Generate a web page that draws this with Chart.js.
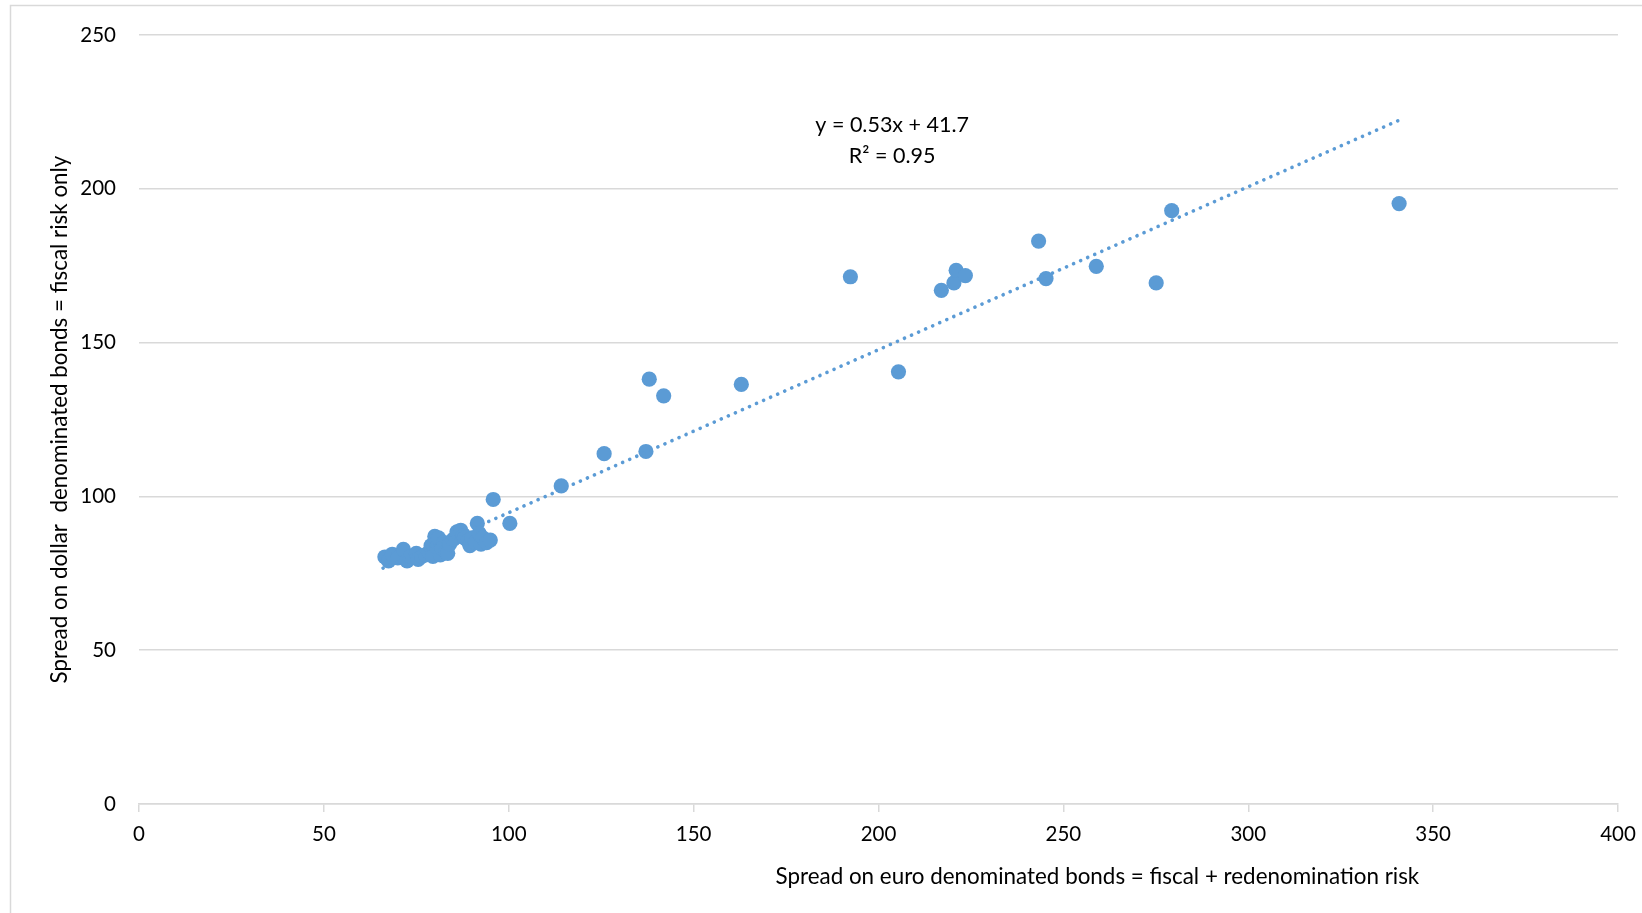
<!DOCTYPE html>
<html>
<head>
<meta charset="utf-8">
<script src="https://cdn.jsdelivr.net/npm/chart.js@4.4.1/dist/chart.umd.min.js"></script>
<style>
  html, body { margin: 0; padding: 0; background: #fff; }
  #wrap { width: 1642px; height: 913px; }
</style>
</head>
<body>
<div id="wrap"><canvas id="chart" width="1642" height="913"></canvas></div>
<script>
// spreads in basis points
const euroSpread = [
  66.5, 67.5, 68.5, 70, 71.5, 72.5, 73.5, 75, 75.5, 76.5, 77.5, 78.5, 79, 79.5, 80, 80.5,
  81, 81.5, 82, 82.5, 83, 83.5, 84, 85, 86, 87, 87.5, 88, 89, 89.5, 90, 91, 91.5, 92,
  92.5, 93, 94, 95, 95.8, 100.3, 114.2, 125.8, 137.1, 138, 141.9, 162.9, 192.4, 205.4,
  217, 220.4, 221, 223.5, 243.3, 245.3, 258.9, 275.1, 279.3, 340.8
];
const dollarSpread = [
  80.3, 79.0, 81.2, 80.0, 82.8, 79.0, 80.5, 81.5, 79.5, 80.5, 81.0, 82.0, 84.0, 80.5, 87.0, 83.5,
  86.5, 81.0, 83.0, 85.0, 82.0, 81.5, 84.5, 86.0, 88.5, 89.0, 87.0, 86.5, 85.5, 84.0, 86.5, 85.0, 91.2, 88.0,
  84.5, 86.5, 85.0, 85.8, 99.0, 91.2, 103.4, 113.9, 114.6, 138.1, 132.7, 136.4, 171.4, 140.5,
  167.0, 169.4, 173.5, 171.8, 183.0, 170.8, 174.8, 169.4, 192.9, 195.2
];

// dotted linear trend line, ends
const trendX = [66, 341];
const trendY = [76.7, 222.4];

const xTicks = [0, 50, 100, 150, 200, 250, 300, 350, 400];
const yTicks = [0, 50, 100, 150, 200, 250];

const equationLines = ['y = 0.53x + 41.7', 'R\u00b2 = 0.95'];
const xTitle = 'Spread on euro denominated bonds = fiscal + redenomination risk';
const yTitle = 'Spread on dollar  denominated bonds = fiscal risk only';

const FONT = 'Lato, "Open Sans", sans-serif';
const BLUE = '#5b9bd5';
const GRID = '#d9d9d9';

const points = euroSpread.map((x, i) => ({ x: x, y: dollarSpread[i] }));
const trend = trendX.map((x, i) => ({ x: x, y: trendY[i] }));

const decor = {
  id: 'decor',
  beforeDraw(chart) {
    const ctx = chart.ctx;
    ctx.save();
    ctx.strokeStyle = GRID;
    ctx.lineWidth = 1.5;
    ctx.beginPath();
    ctx.moveTo(10.5, 913);
    ctx.lineTo(10.5, 5.5);
    ctx.lineTo(1642, 5.5);
    ctx.stroke();
    ctx.restore();
  },
  afterDraw(chart) {
    const ctx = chart.ctx;
    const xs = chart.scales.x, ys = chart.scales.y;
    ctx.save();
    ctx.fillStyle = '#000';
    ctx.textAlign = 'center';
    ctx.textBaseline = 'middle';
    ctx.font = '21.5px ' + FONT;
    const ex = xs.getPixelForValue(203.7);
    ctx.fillText(equationLines[0], ex, ys.getPixelForValue(220.7));
    ctx.fillText(equationLines[1], ex, ys.getPixelForValue(210.8));
    ctx.font = '22.4px ' + FONT;
    ctx.fillText(xTitle, xs.getPixelForValue(259.2), 877);
    ctx.translate(60, (ys.top + ys.bottom) / 2);
    ctx.rotate(-Math.PI / 2);
    ctx.fillText(yTitle, 0, 0);
    ctx.restore();
  }
};

new Chart(document.getElementById('chart'), {
  type: 'scatter',
  data: {
    datasets: [
      {
        type: 'line',
        data: trend,
        borderColor: BLUE,
        borderWidth: 3.6,
        borderDash: [0.1, 7.6],
        borderCapStyle: 'round',
        pointRadius: 0,
        fill: false
      },
      {
        data: points,
        backgroundColor: BLUE,
        borderColor: BLUE,
        borderWidth: 0,
        pointRadius: 7.6,
        pointHoverRadius: 7.6
      }
    ]
  },
  options: {
    responsive: false,
    animation: false,
    layout: { padding: { left: 0, top: 35, right: 24, bottom: 0 } },
    plugins: { legend: { display: false }, tooltip: { enabled: false } },
    scales: {
      x: {
        type: 'linear',
        min: 0,
        max: 400,
        afterBuildTicks: (s) => { s.ticks = xTicks.map(v => ({ value: v })); },
        afterFit: (s) => { s.height = 109; s.paddingRight = 0; s.paddingLeft = 0; },
        grid: { drawOnChartArea: false, drawTicks: true, tickLength: 8, color: GRID, lineWidth: 1.5 },
        border: { display: true, color: GRID, width: 1.5 },
        ticks: { color: '#000', font: { family: FONT, size: 20.5 }, padding: 10, maxRotation: 0 }
      },
      y: {
        type: 'linear',
        min: 0,
        max: 250,
        afterBuildTicks: (s) => { s.ticks = yTicks.map(v => ({ value: v })); },
        afterFit: (s) => { s.width = 139; s.paddingTop = 0; s.paddingBottom = 0; },
        grid: { drawTicks: false, color: GRID, lineWidth: 1.5 },
        border: { display: false },
        ticks: { color: '#000', font: { family: FONT, size: 20.5 }, padding: 23 }
      }
    }
  },
  plugins: [decor]
});
</script>
</body>
</html>
